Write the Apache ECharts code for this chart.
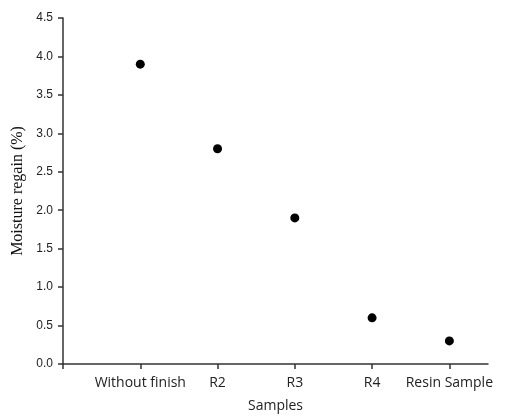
<!DOCTYPE html>
<html>
<head>
<meta charset="utf-8">
<script src="https://cdn.jsdelivr.net/npm/echarts@6/dist/echarts.min.js"></script>
<style>
    html, body { margin: 0; padding: 0; background: #fff; }
    #main { width: 505px; height: 418px; }
</style>
</head>
<body>
<div id="main"></div>
<script>
// 样品名称
const categories = ['Without finish', 'R2', 'R3', 'R4', 'Resin Sample']
// 回潮率 (%)
const moistureRegain = [3.9, 2.8, 1.9, 0.6, 0.3]
// y轴刻度
const yTicks = [0, 0.5, 1, 1.5, 2, 2.5, 3, 3.5, 4, 4.5]

const chart = {

    init() {
        let main = document.getElementById('main')
        let myChart = echarts.init(main)
        myChart.setOption(this.createOption())
    },

    createOption() {
        // 每个样品放在 1..5 的位置上
        let points = moistureRegain.map((v, i) => [i + 1, v])
        let axisColor = '#333'
        return {
            animation: false,
            grid: { left: 63, top: 18, right: 17, bottom: 53 },
            xAxis: {
                type: 'value',
                min: 0,
                max: 5.5,
                interval: 1,
                name: 'Samples',
                nameLocation: 'middle',
                nameGap: 35,
                nameTextStyle: { fontFamily: 'Open Sans', fontSize: 14, color: '#222' },
                splitLine: { show: false },
                axisLine: { lineStyle: { color: axisColor, width: 1.5 } },
                axisTick: {
                    customValues: [0, 1, 2, 3, 4, 5],
                    length: 5,
                    lineStyle: { color: axisColor, width: 1.5 }
                },
                axisLabel: {
                    customValues: [1, 2, 3, 4, 5],
                    margin: 12,
                    fontFamily: 'Open Sans',
                    fontSize: 14,
                    color: '#222',
                    formatter: v => categories[Math.round(v) - 1] || ''
                }
            },
            yAxis: {
                type: 'value',
                min: 0,
                max: 4.5,
                interval: 0.5,
                name: 'Moisture regain (%)',
                nameLocation: 'middle',
                nameGap: 36,
                nameTextStyle: { fontFamily: 'Liberation Serif', fontSize: 16, color: '#111' },
                splitLine: { show: false },
                axisLine: { show: true, lineStyle: { color: axisColor, width: 1.5 } },
                axisTick: { show: true, length: 5, lineStyle: { color: axisColor, width: 1.5 } },
                axisLabel: {
                    customValues: yTicks,
                    margin: 10,
                    fontFamily: 'Liberation Sans',
                    fontSize: 12,
                    color: '#222',
                    formatter: v => v.toFixed(1)
                }
            },
            series: [{
                type: 'scatter',
                symbol: 'circle',
                symbolSize: 9,
                itemStyle: { color: '#000', opacity: 1 },
                data: points
            }]
        }
    }
}

chart.init()
</script>
</body>
</html>
